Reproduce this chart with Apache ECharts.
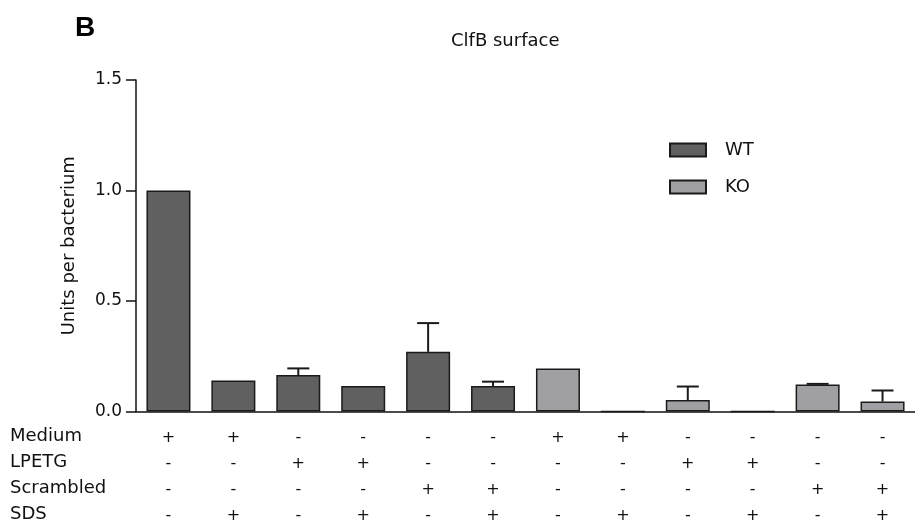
<!DOCTYPE html>
<html>
<head>
<meta charset="utf-8">
<script src="https://cdn.jsdelivr.net/npm/echarts@6/dist/echarts.min.js"></script>
<style>html,body{margin:0;padding:0;background:#fff;}#c{width:915px;height:529px;}</style>
</head>
<body>
<div id="c"></div>
<script>
const categories = ['1','2','3','4','5','6','7','8','9','10','11','12'];
const groups = ['WT','WT','WT','WT','WT','WT','KO','KO','KO','KO','KO','KO'];
const wtValues = [1.0, 0.14, 0.165, 0.115, 0.27, 0.115];
const wtErrors = [0, 0, 0.03, 0, 0.13, 0.02];
const koValues = [0.195, 0, 0.052, 0, 0.122, 0.045];
const koErrors = [0, 0, 0.061, 0, 0.003, 0.05];
const medium    = ['+','+','-','-','-','-','+','+','-','-','-','-'];
const lpetg     = ['-','-','+','+','-','-','-','-','+','+','-','-'];
const scrambled = ['-','-','-','-','+','+','-','-','-','-','+','+'];
const sds       = ['-','+','-','+','-','+','-','+','-','+','-','+'];
const rowNames = ['Medium','LPETG','Scrambled','SDS'];
const yTicks = [0, 0.5, 1.0, 1.5];

const FONT = '"DejaVu Sans", sans-serif';
const values = wtValues.concat(koValues);
const errors = wtErrors.concat(koErrors);
const wtData = categories.map((c,i) => groups[i]==='WT' ? wtValues[i] : '-');
const koData = categories.map((c,i) => groups[i]==='KO' ? koValues[i-6] : '-');
const errData = categories.map((c,i) => [i, values[i], values[i] + errors[i]]).filter(d => d[2] > d[1]);

const chart = echarts.init(document.getElementById('c'));
const rows = [medium, lpetg, scrambled, sds];
chart.setOption({
  animation: false,
  backgroundColor: '#fff',
  title: {
    text: 'ClfB surface', left: 446, top: 27,
    textStyle: {fontFamily: FONT, fontSize: 18, fontWeight: 'normal', color: '#111'}
  },
  legend: {
    orient: 'vertical', left: 669, top: 141, padding: 0,
    itemWidth: 36, itemHeight: 13, itemGap: 19,
    data: ['WT','KO'],
    icon: 'rect',
    textStyle: {fontFamily: FONT, fontSize: 18, color: '#111', padding: [0,0,0,14]}
  },
  grid: {left: 136, right: 0, top: 80, bottom: 117.5, containLabel: false},
  xAxis: {
    type: 'category', data: categories,
    axisLine: {lineStyle: {color: '#111', width: 1.5}},
    axisTick: {show: false},
    axisLabel: {
      interval: 0, margin: 13.5, lineHeight: 26,
      fontFamily: FONT, fontSize: 16, color: '#111',
      formatter: (v, i) => rows.map(r => r[i]).join('\n')
    }
  },
  yAxis: {
    type: 'value', min: 0, max: 1.5, interval: 0.5,
    name: 'Units per bacterium', nameLocation: 'middle', nameGap: 58,
    nameTextStyle: {fontFamily: FONT, fontSize: 18, color: '#111'},
    axisLine: {show: true, lineStyle: {color: '#111', width: 1.5}},
    axisTick: {show: true, length: 10, lineStyle: {color: '#111', width: 1.5}},
    axisLabel: {fontFamily: FONT, fontSize: 17, color: '#111', margin: 14,
      formatter: v => yTicks.includes(v) ? v.toFixed(1) : ''},
    splitLine: {show: false}
  },
  series: [
    {name: 'WT', type: 'bar', data: wtData, barWidth: 44, barGap: '-100%',
     itemStyle: {color: '#606060', borderColor: '#1a1a1a', borderWidth: 1.5}},
    {name: 'KO', type: 'bar', data: koData, barWidth: 44, barGap: '-100%',
     itemStyle: {color: '#a0a0a4', borderColor: '#1a1a1a', borderWidth: 1.5}},
    {type: 'custom', data: errData, z: 1,
     renderItem: (params, api) => {
       const x = api.value(0);
       const lo = api.coord([x, api.value(1)]);
       const hi = api.coord([x, api.value(2)]);
       const st = {stroke: '#1a1a1a', lineWidth: 2};
       return {type: 'group', children: [
         {type: 'line', shape: {x1: lo[0], y1: lo[1], x2: hi[0], y2: hi[1]}, style: st},
         {type: 'line', shape: {x1: hi[0]-11, y1: hi[1], x2: hi[0]+11, y2: hi[1]}, style: st}
       ]};
     }}
  ],
  graphic: [
    {type: 'text', left: 75, top: 14, style: {text: 'B', font: 'bold 28px "Liberation Sans", Arial, sans-serif', fill: '#000'}}
  ].concat(rowNames.map((n, k) => ({
    type: 'text', x: 10, y: 436 + k * 26,
    style: {text: n, fontFamily: FONT, fontSize: 18, fill: '#111', textVerticalAlign: 'middle'}
  })))
});
</script>
</body>
</html>
